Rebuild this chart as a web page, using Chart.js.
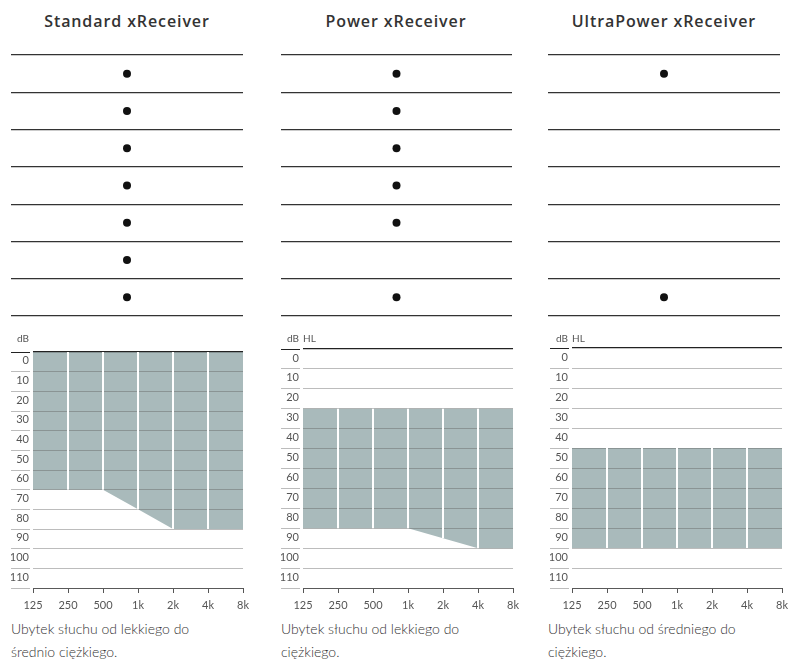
<!DOCTYPE html>
<html>
<head>
<meta charset="utf-8">
<script src="https://cdn.jsdelivr.net/npm/chart.js@4.4.1/dist/chart.umd.min.js"></script>
<style>
  body { margin: 0; background: #fff; width: 801px; height: 662px; position: relative; overflow: hidden; }
  canvas { position: absolute; }
  .title { position: absolute; top: 10px; width: 270px; text-align: center; font: 600 16px "Open Sans", sans-serif; letter-spacing: 0.9px; color: #333; }
  .cap { position: absolute; top: 617px; font: 300 14px Lato, sans-serif; color: #333; line-height: 23px; }
  .unit { position: absolute; top: 332px; font: 10px Lato, sans-serif; color: #555; }
</style>
</head>
<body>
<script>
// dane
const receivers = ["Standard xReceiver", "Power xReceiver", "UltraPower xReceiver"];
const rowCount = 7;
const standardRows = [1, 1, 1, 1, 1, 1, 1];
const powerRows = [1, 1, 1, 1, 1, 0, 1];
const ultraPowerRows = [1, 0, 0, 0, 0, 0, 1];

const frequencies = ["125", "250", "500", "1k", "2k", "4k", "8k"];
const dbTicks = [0, 10, 20, 30, 40, 50, 60, 70, 80, 90, 100, 110];
const dbMax = 120;

const standardTop = [0, 0, 0, 0, 0, 0, 0];
const standardBottom = [70, 70, 70, 80, 90, 90, 90];
const powerTop = [30, 30, 30, 30, 30, 30, 30];
const powerBottom = [90, 90, 90, 90, 95, 100, 100];
const ultraPowerTop = [50, 50, 50, 50, 50, 50, 50];
const ultraPowerBottom = [100, 100, 100, 100, 100, 100, 100];

const yUnits = ["dB", "dB HL", "dB HL"];
const captions = [
  "Ubytek słuchu od lekkiego do<br>średnio ciężkiego.",
  "Ubytek słuchu od lekkiego do<br>ciężkiego.",
  "Ubytek słuchu od średniego do<br>ciężkiego."
];

const rows = [standardRows, powerRows, ultraPowerRows];
const tops = [standardTop, powerTop, ultraPowerTop];
const bottoms = [standardBottom, powerBottom, ultraPowerBottom];

// układ kolumn
const colCenter = [127, 396, 664];
const dotLeft = [11, 281, 548];
const dotWidth = [232, 231, 232];
const audLeft = [11, 281, 550];
const audTop = [352, 349, 348];
const audBottom = 588;

const fillColor = "#a9babb";
const gridGray = "rgba(95,95,95,0.42)";
const tickFont = { family: "Lato", size: 11 };

function addCanvas(left, top, w, h) {
  const c = document.createElement("canvas");
  c.width = w; c.height = h;
  c.style.left = left + "px"; c.style.top = top + "px";
  document.body.appendChild(c);
  return c;
}

function dotChart(canvas, r) {
  const pts = [];
  r.forEach((v, i) => { if (v) pts.push({ x: 0.5, y: i + 0.5 }); });
  new Chart(canvas, {
    type: "scatter",
    data: { datasets: [{ data: pts, pointRadius: 4, pointBackgroundColor: "#111", pointBorderWidth: 0 }] },
    options: {
      responsive: false, animation: false, events: [],
      layout: { autoPadding: false, padding: { top: 10, bottom: 10, left: 0, right: 0 } },
      plugins: { legend: { display: false }, tooltip: { enabled: false } },
      scales: {
        x: { display: false, min: 0, max: 1 },
        y: {
          min: 0, max: rowCount, reverse: true,
          ticks: { display: false, stepSize: 1 },
          grid: { drawTicks: false, color: "#333", lineWidth: 1.2 },
          border: { display: false }
        }
      }
    }
  });
}

// białe pionowe linie tylko w obszarze wypełnienia
const whiteLines = {
  id: "whiteLines",
  afterDraw(chart) {
    const { ctx } = chart;
    const x = chart.scales.x, y = chart.scales.y;
    const top = chart.data.datasets[0].data, bottom = chart.data.datasets[1].data;
    ctx.save();
    ctx.strokeStyle = "#fff";
    ctx.lineWidth = 2;
    for (let i = 1; i < top.length - 1; i++) {
      const px = x.getPixelForValue(i);
      ctx.beginPath();
      ctx.moveTo(px, y.getPixelForValue(top[i]));
      ctx.lineTo(px, y.getPixelForValue(bottom[i]));
      ctx.stroke();
    }
    ctx.restore();
  }
};

function audioChart(canvas, top, bottom) {
  const lineTicks = dbTicks.concat([dbMax]);
  const labelTicks = dbTicks.map((v) => v + 4.5);
  new Chart(canvas, {
    type: "line",
    data: {
      labels: frequencies,
      datasets: [
        { data: top, borderWidth: 0, pointRadius: 0, fill: false, xAxisID: "x", yAxisID: "y" },
        { data: bottom, borderWidth: 0, pointRadius: 0, fill: "-1", backgroundColor: fillColor, xAxisID: "x", yAxisID: "y" }
      ]
    },
    options: {
      responsive: false, animation: false, events: [],
      layout: { autoPadding: false, padding: { top: 12, right: 0, bottom: 2, left: 0 } },
      plugins: { legend: { display: false }, tooltip: { enabled: false } },
      scales: {
        x: {
          offset: false,
          afterFit: (s) => { s.height = 22; },
          grid: { drawOnChartArea: false, drawTicks: true, tickLength: 5, color: "#555" },
          border: { color: "#555" },
          ticks: { font: tickFont, color: "#555", padding: 6, maxRotation: 0, autoSkip: false }
        },
        yl: {
          axis: "y", position: "left", weight: 1,
          min: 0, max: dbMax, reverse: true,
          afterBuildTicks: (s) => { s.ticks = lineTicks.concat(labelTicks).map((v) => ({ value: v })); },
          afterFit: (s) => { s.width = 19; },
          ticks: {
            font: tickFont, color: "#555", padding: -18, autoSkip: false,
            callback: (v) => (v % 10 === 0 ? "" : String(Math.round(v - 4.5)))
          },
          grid: {
            drawOnChartArea: false, tickLength: 19,
            color: (ctx) => {
              const v = ctx.tick.value;
              if (v % 10 !== 0) return "rgba(0,0,0,0)";
              return v === 0 ? "#222" : gridGray;
            }
          },
          border: { display: false }
        },
        y: {
          position: "left", weight: 0,
          min: 0, max: dbMax, reverse: true,
          afterBuildTicks: (s) => { s.ticks = lineTicks.map((v) => ({ value: v })); },
          afterFit: (s) => { s.width = 3; },
          ticks: { display: false, autoSkip: false },
          grid: {
            z: 1,
            tickLength: 3, tickColor: "rgba(0,0,0,0)",
            color: (ctx) => (ctx.tick.value === 0 ? "#222" : gridGray),
            lineWidth: (ctx) => (ctx.tick.value === 0 ? 1.3 : 1)
          },
          border: { display: false }
        }
      }
    },
    plugins: [whiteLines]
  });
}

receivers.forEach((name, i) => {
  const t = document.createElement("div");
  t.className = "title";
  t.style.left = (colCenter[i] - 135) + "px";
  t.textContent = name;
  document.body.appendChild(t);

  dotChart(addCanvas(dotLeft[i], 45, dotWidth[i], 281), rows[i]);

  const aTop = audTop[i] - 12;
  audioChart(addCanvas(audLeft[i], aTop, 244, audBottom + 24 - aTop), tops[i], bottoms[i]);

  // jednostka osi
  const parts = yUnits[i].split(" ");
  const u1 = document.createElement("div");
  u1.className = "unit";
  u1.style.left = (audLeft[i] + 4) + "px";
  u1.style.width = "14px";
  u1.style.textAlign = "right";
  u1.textContent = parts[0];
  document.body.appendChild(u1);
  if (parts[1]) {
    const u2 = document.createElement("div");
    u2.className = "unit";
    u2.style.left = (audLeft[i] + 22) + "px";
    u2.textContent = parts[1];
    document.body.appendChild(u2);
  }

  const c = document.createElement("div");
  c.className = "cap";
  c.style.left = dotLeft[i] + "px";
  c.innerHTML = captions[i];
  document.body.appendChild(c);
});
</script>
</body>
</html>
